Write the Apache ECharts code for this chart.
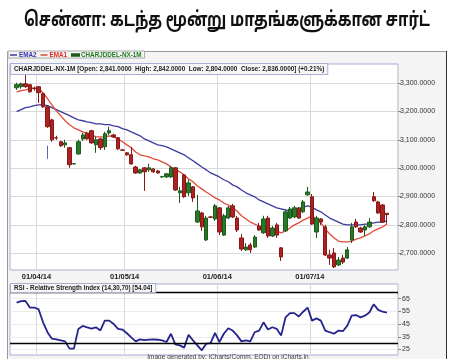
<!DOCTYPE html>
<html><head><meta charset="utf-8">
<script src="https://cdn.jsdelivr.net/npm/echarts@6/dist/echarts.min.js"></script>
<style>html,body{margin:0;padding:0;background:#fff}#c{width:453px;height:359px}</style>
</head><body><div id="c"></div>
<script>
// ---- data ----
const titleText = 'சென்னா: கடந்த மூன்று மாதங்களுக்கான சார்ட்';
const symbolName = 'CHARJDDEL-NX-1M';
// OHLC: [open, close, low, high]
const ohlc = [
[3283,3294,3276,3301],[3287,3297,3280,3301],[3297,3287,3283,3336],[3294,3269,3266,3297],[3281,3280,3273,3287],
[3287,3266,3230,3290],[3262,3216,3213,3266],[3216,3146,3142,3220],[3170,3100,3093,3174],[3107,3106,3100,3114],
[3093,3079,3075,3096],[3082,3089,3072,3100],[3072,3012,3001,3075],[3015,3016,3012,3017],[3050,3093,3047,3100],
[3103,3117,3096,3124],[3124,3103,3100,3128],[3132,3089,3086,3135],[3082,3100,3054,3110],[3103,3072,3064,3107],
[3075,3121,3064,3128],[3124,3132,3117,3146],[3117,3110,3107,3121],[3107,3068,3064,3110],[3064,3063,3061,3068],
[3054,3047,3043,3057],[3047,3015,3012,3075],[3004,2983,2980,3008],[2983,2994,2980,2997],[3001,2987,2920,3004],
[2994,3001,2987,3015],[2997,2987,2983,3001],[2990,2983,2980,2994],[2969,2970,2966,2973],[2969,2980,2966,2983],
[2969,3001,2966,3008],[3001,2923,2920,3004],[2913,2920,2877,2934],[2976,2899,2895,2980],[2913,2948,2902,2959],
[2934,2895,2881,2937],[2810,2849,2807,2906],[2842,2793,2779,2846],[2747,2824,2743,2832],[2828,2827,2824,2832],
[2821,2867,2814,2874],[2860,2775,2764,2863],[2764,2832,2761,2839],[2824,2860,2821,2867],[2867,2828,2824,2874],
[2824,2782,2775,2832],[2754,2715,2708,2768],[2712,2722,2708,2736],[2729,2712,2701,2736],[2722,2757,2719,2764],
[2796,2782,2779,2807],[2772,2821,2768,2832],[2824,2761,2754,2832],[2761,2789,2757,2796],[2800,2764,2754,2807],
[2719,2687,2673,2722],[2779,2846,2775,2853],[2824,2856,2821,2863],[2828,2860,2824,2867],[2860,2824,2821,2863],
[2846,2881,2842,2888],[2906,2916,2902,2934],[2899,2803,2800,2909],[2775,2824,2754,2832],[2821,2810,2800,2824],
[2793,2694,2690,2800],[2694,2683,2659,2712],[2701,2652,2648,2719],[2659,2676,2655,2687],[2683,2669,2662,2694],
[2683,2712,2680,2722],[2747,2793,2736,2807],[2810,2793,2789,2821],[2789,2775,2772,2793],[2782,2793,2761,2800],
[2793,2810,2789,2824],[2899,2885,2881,2916],[2881,2842,2839,2885],[2870,2810,2807,2874],[2841,2836,2804,2842]
];
const ema1 = [3269,3273,3276,3280,3283,3280,3266,3245,3223,3202,3185,3167,3153,3142,3135,3128,3121,3117,3110,3110,
3110,3114,3110,3103,3093,3082,3072,3057,3047,3043,3040,3033,3029,3022,3015,3004,2994,2987,2976,2962,
2952,2937,2927,2916,2906,2895,2888,2877,2870,2860,2849,2832,2821,2810,2803,2796,2789,2786,2786,2779,
2772,2779,2789,2800,2807,2817,2824,2832,2821,2807,2786,2768,2754,2743,2740,2740,2743,2750,2754,2761,
2768,2779,2786,2793,2803];
const ema2 = [3199,3206,3213,3216,3220,3223,3223,3220,3213,3206,3199,3192,3185,3177,3170,3167,3163,3160,3156,3156,
3153,3153,3149,3146,3139,3135,3128,3121,3114,3103,3096,3089,3082,3079,3075,3068,3061,3054,3047,3036,
3026,3015,3004,2994,2983,2976,2969,2959,2952,2941,2934,2923,2913,2906,2899,2888,2881,2874,2867,2860,
2856,2853,2849,2853,2856,2863,2867,2863,2853,2846,2835,2824,2817,2810,2803,2800,2800,2800,2800,2803,
2803,2807,2810,2810,2814];
const rsi = [61.9,63,63.2,58,58,56.5,46.4,38.6,33.5,33,32.2,31.4,25.7,25.7,41.2,43.5,42.5,41.5,42.5,40,
47.7,47.7,45.1,41.2,40.7,37.8,34.5,31.4,33,32.4,32.8,33,32.7,32.2,30.9,37.4,29,28.3,26.5,36.6,
32.2,28.3,24.4,29.6,30.1,38.1,30.9,37.4,41.7,39.9,36.1,31.4,32.2,31.4,38.6,39.9,46.4,40.7,42.5,41.2,
36.1,50.3,53.6,53.6,51,54.7,58,47.7,49.5,47.7,39.9,38.6,37.4,39.9,39.4,43.8,51.6,52.1,50.3,51.6,
54.1,60.6,56.2,54.7,54.04];
const artifact = [3079, 3033]; // thin blue vertical mark near candle 8
const padBefore = 1, padAfter = 2;
const monthTickIndex = [6, 26, 47, 68];
const monthTickLabels = ['01/04/14', '01/05/14', '01/06/14', '01/07/14'];
const priceTicks = [2700, 2800, 2900, 3000, 3100, 3200, 3300];
const priceRange = [2641, 3367];
const rsiTicks = [25, 35, 45, 55, 65];
const rsiRange = [20.7, 76.5];
const rsiBands = [70, 30];
const lastBar = {open: '2,841.0000', high: '2,842.0000', low: '2,804.0000', close: '2,836.0000', chg: '+0.21%'};
const rsiLabel = 'RSI - Relative Strength Index (14,30,70) [54.04]';
const footer = 'Image generated by: iCharts(Comm. EOD) on iCharts.in';

// ---- build ----
const n = padBefore + ohlc.length + padAfter;
const categories = Array.from({length: n}, (_, i) => String(i));
const pad = (arr) => [...Array(padBefore).fill('-'), ...arr, ...Array(padAfter).fill('-')];
const labelOf = {};
monthTickIndex.forEach((ix, k) => labelOf[ix] = monthTickLabels[k]);
const isMonth = (idx) => monthTickIndex.indexOf(idx) >= 0;
const fmtPrice = v => v.toLocaleString('en-US', {minimumFractionDigits: 4, maximumFractionDigits: 4});

// fit title width to the reference span
const titleFont = 'bold 20px "Noto Sans Tamil","Noto Sans",sans-serif';
const mctx = document.createElement('canvas').getContext('2d');
mctx.font = titleFont;
const titleW = mctx.measureText(titleText).width || 406;
const titleTargetW = 406;
const titleScale = Math.min(1, titleTargetW / titleW);

const GL = 10, GW = 388;
const plotBorder = '#a9aed6';
const gridLineColor = '#d9d9d9';
const smallFont = 'Arial, "Liberation Sans", sans-serif';

const chart = echarts.init(document.getElementById('c'), null, {renderer: 'canvas'});
chart.setOption({
  animation: false,
  backgroundColor: '#ffffff',
  legend: {
    left: 8, top: 51, orient: 'horizontal', icon: 'rect', itemWidth: 7, itemHeight: 1.5, itemGap: 4,
    padding: [1, 3, 0, 2], borderColor: '#aaa', borderWidth: 1, backgroundColor: '#f5f5f5',
    selectedMode: false,
    textStyle: {fontSize: 6.3, fontWeight: 'bold', fontFamily: smallFont, padding: [0, 0, 0, -3]},
    data: [
      {name: 'EMA2', itemStyle: {color: '#3b3ba0'}, textStyle: {color: '#3333aa'}},
      {name: 'EMA1', itemStyle: {color: '#e04a3a'}, textStyle: {color: '#dd2a1a'}},
      {name: symbolName, itemStyle: {color: '#2a8a2a'}, textStyle: {color: '#1e7a1e'}}
    ]
  },
  grid: [
    {left: GL, top: 64, width: GW, height: 206, show: true, borderColor: plotBorder, borderWidth: 1, backgroundColor: '#fff'},
    {left: GL, top: 284, width: GW, height: 71, show: true, borderColor: plotBorder, borderWidth: 1, backgroundColor: '#fff'}
  ],
  xAxis: [
    {type: 'category', gridIndex: 0, data: categories, boundaryGap: true,
     axisLine: {show: false}, axisTick: {show: false},
     axisLabel: {interval: (i) => isMonth(i), formatter: (v, i) => labelOf[i] || '', fontSize: 7.5, fontWeight: 'bold',
       color: '#222', margin: 3, padding: [0, 4.4, 0, 0], fontFamily: smallFont},
     splitLine: {show: true, interval: (i) => isMonth(i), lineStyle: {color: gridLineColor, width: 1}}},
    {type: 'category', gridIndex: 1, data: categories, boundaryGap: true,
     axisLine: {show: false}, axisTick: {show: false}, axisLabel: {show: false},
     splitLine: {show: true, interval: (i) => isMonth(i), lineStyle: {color: gridLineColor, width: 1}}}
  ],
  yAxis: [
    {type: 'value', gridIndex: 0, position: 'right', min: priceRange[0], max: priceRange[1], scale: true,
     axisLine: {show: false},
     axisTick: {show: true, length: 3, inside: false, customValues: priceTicks, lineStyle: {color: '#888'}},
     axisLabel: {customValues: priceTicks, formatter: fmtPrice, fontSize: 7, color: '#333', margin: 2, fontFamily: smallFont},
     splitLine: {show: true, lineStyle: {color: gridLineColor, width: 1}}},
    {type: 'value', gridIndex: 1, position: 'right', min: rsiRange[0], max: rsiRange[1], scale: true,
     axisLine: {show: false},
     axisTick: {show: true, length: 3, customValues: rsiTicks, lineStyle: {color: '#888'}},
     axisLabel: {customValues: rsiTicks, fontSize: 7, color: '#333', margin: 4, fontFamily: smallFont},
     splitLine: {show: true, lineStyle: {color: '#ececec', width: 1}}}
  ],
  series: [
    {name: 'EMA2', type: 'line', xAxisIndex: 0, yAxisIndex: 0, data: pad(ema2), showSymbol: false,
     lineStyle: {color: '#3b3ba0', width: 1.3}, itemStyle: {color: '#3b3ba0'}, z: 3},
    {name: 'EMA1', type: 'line', xAxisIndex: 0, yAxisIndex: 0, data: pad(ema1), showSymbol: false,
     lineStyle: {color: '#e04a3a', width: 1.3}, itemStyle: {color: '#e04a3a'}, z: 3},
    {name: symbolName, type: 'candlestick', xAxisIndex: 0, yAxisIndex: 0, data: pad(ohlc), barWidth: 3.9, z: 4,
     itemStyle: {color: '#287a28', color0: '#ad2222', borderColor: '#1c5a1c', borderColor0: '#861818', borderWidth: 1},
     markLine: {silent: true, symbol: 'none', label: {show: false}, lineStyle: {color: '#5866b8', width: 1, type: 'solid'},
       data: [[{coord: [String(padBefore + 7), artifact[0]]}, {coord: [String(padBefore + 7), artifact[1]]}]]}},
    {name: 'RSI', type: 'line', xAxisIndex: 1, yAxisIndex: 1, data: pad(rsi), showSymbol: false,
     lineStyle: {color: '#24248c', width: 1.8}, z: 3,
     markLine: {silent: true, symbol: 'none', label: {show: false}, lineStyle: {color: '#000', width: 1.3, type: 'solid'},
       data: rsiBands.map(v => ({yAxis: v}))}}
  ],
  graphic: [
    {type: 'rect', left: 7, top: 51, z: -10, silent: true, shape: {width: 439, height: 312},
     style: {fill: '#f4f4f4', stroke: '#999', lineWidth: 1}},
    {type: 'line', z: 50, silent: true, shape: {x1: 446.5, y1: 51, x2: 446.5, y2: 359}, style: {stroke: '#333', lineWidth: 1}},
    {type: 'text', x: 227, y: 22, z: 100, silent: true, scaleX: titleScale, scaleY: 1,
     style: {text: titleText, font: titleFont, fill: '#111', align: 'center', verticalAlign: 'middle'}},
    {type: 'text', left: 10, top: 63, z: 100, silent: true,
     style: {text: symbolName + ' [Open: ' + lastBar.open + '  High: ' + lastBar.high + '  Low: ' + lastBar.low +
       '  Close: ' + lastBar.close + '] (' + lastBar.chg + ')',
       font: 'bold 6.4px ' + smallFont, fill: '#222', backgroundColor: '#f6f6f6',
       borderColor: plotBorder, borderWidth: 1, padding: [2, 3, 2, 3]}},
    {type: 'text', left: 10, top: 283, z: 100, silent: true,
     style: {text: rsiLabel, font: 'bold 6.3px ' + smallFont, fill: '#222', backgroundColor: '#f6f6f6',
       borderColor: plotBorder, borderWidth: 1, padding: [1, 3, 1, 3]}},
    {type: 'text', x: 228, y: 357, z: 100, silent: true,
     style: {text: footer, font: '6.5px ' + smallFont, fill: '#444', align: 'center', verticalAlign: 'middle'}}
  ]
});
</script></body></html>
